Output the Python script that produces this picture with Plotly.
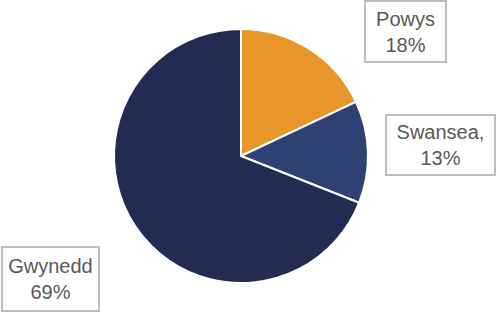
import plotly.graph_objects as go

labels = ["Powys", "Swansea", "Gwynedd"]
values = [18, 13, 69]
label_text = ["Powys<br>18%", "Swansea,<br>13%", "Gwynedd<br>69%"]
colors = ["#E8962A", "#2F4173", "#232B53"]

W, H = 496, 312
fig = go.Figure(go.Pie(
    labels=labels, values=values, sort=False, direction="clockwise", rotation=0,
    marker=dict(colors=colors, line=dict(color="white", width=2)),
    textinfo="none", hoverinfo="label+percent",
    domain=dict(x=[(241 - 127) / W, (241 + 127) / W], y=[(312 - 156 - 127) / H, (312 - 156 + 127) / H]),
))

# label boxes: (center x px, center y px, width px, height px)
boxes = [(405.5, 31.5, 79, 59), (440.5, 145, 107, 58), (50.5, 279, 95, 62)]
for txt, (cx, cy, bw, bh) in zip(label_text, boxes):
    fig.add_annotation(
        text=txt, x=cx / W, y=1 - cy / H, xref="paper", yref="paper",
        xanchor="center", yanchor="middle", showarrow=False,
        width=bw, height=bh, borderpad=0, bordercolor="#BFBFBF", borderwidth=2,
        bgcolor="white", font=dict(family="Liberation Sans, Arial", size=20, color="#595959"),
        align="center",
    )

fig.update_layout(
    width=W, height=H, margin=dict(l=0, r=0, t=0, b=0), showlegend=False,
    paper_bgcolor="white", plot_bgcolor="white",
)
fig.write_html("out.html", config={"displayModeBar": False},
               post_script="document.body.style.margin='0';")
